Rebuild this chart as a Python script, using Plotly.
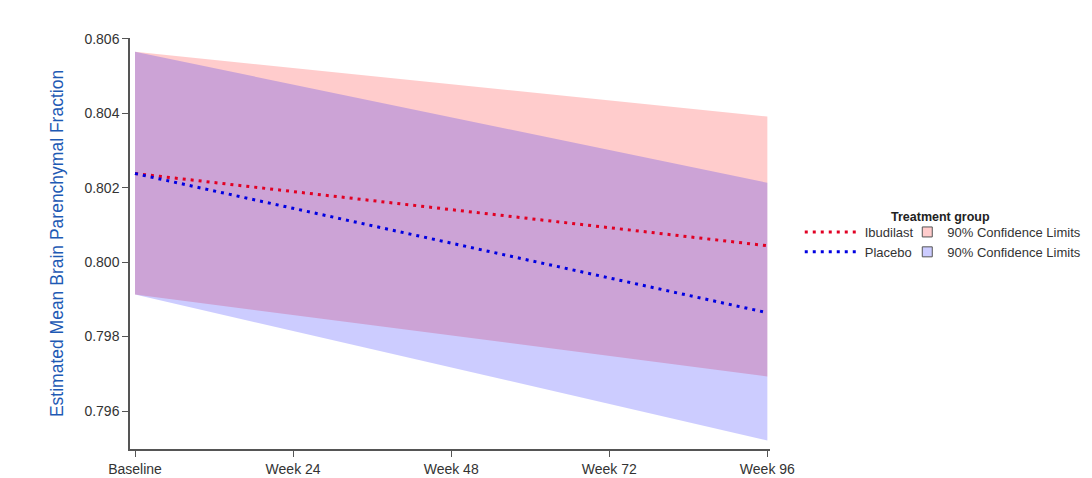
import plotly.graph_objects as go

# ---- data ----
weeks = [0, 24, 48, 72, 96]
tick_labels = ["Baseline", "Week 24", "Week 48", "Week 72", "Week 96"]

ibu_mean = [0.80238, 0.80190, 0.80142, 0.80093, 0.80044]
ibu_upper = [0.80565, 0.80522, 0.80478, 0.80435, 0.80391]
ibu_lower = [0.79913, 0.79858, 0.79803, 0.79748, 0.79693]

pla_mean = [0.80238, 0.80145, 0.80051, 0.79958, 0.79864]
pla_upper = [0.80565, 0.80477, 0.80389, 0.80301, 0.80213]
pla_lower = [0.79913, 0.79815, 0.79717, 0.79619, 0.79521]

y_ticks = [0.796, 0.798, 0.800, 0.802, 0.804, 0.806]

RED_FILL = "rgba(255,0,0,0.2)"
BLUE_FILL = "rgba(0,0,255,0.2)"
RED_LINE = "rgb(225,0,35)"
BLUE_LINE = "rgb(0,0,225)"
FONT = "Liberation Sans, Arial, sans-serif"

fig = go.Figure()

def band(upper, lower, color):
    return go.Scatter(
        x=weeks + weeks[::-1], y=upper + lower[::-1],
        fill="toself", fillcolor=color, mode="lines",
        line=dict(width=0), showlegend=False, hoverinfo="skip")

fig.add_trace(band(ibu_upper, ibu_lower, RED_FILL))
fig.add_trace(band(pla_upper, pla_lower, BLUE_FILL))

fig.add_trace(go.Scatter(x=weeks, y=ibu_mean, mode="lines", name="Ibudilast",
                         line=dict(color=RED_LINE, width=3, dash="3px,5px"),
                         legend="legend"))
fig.add_trace(go.Scatter(x=weeks, y=pla_mean, mode="lines", name="Placebo",
                         line=dict(color=BLUE_LINE, width=3, dash="3px,5px"),
                         legend="legend"))

# legend entries for the confidence bands
for col in ["rgb(255,204,204)", "rgb(204,204,255)"]:
    fig.add_trace(go.Scatter(x=[None], y=[None], mode="markers",
                             name="90% Confidence Limits",
                             marker=dict(symbol="square", size=10, color=col,
                                         line=dict(color="#555", width=1)),
                             legend="legend2"))

fig.update_layout(
    width=1084, height=470,
    margin=dict(l=122, r=322, t=30, b=29, autoexpand=False),
    paper_bgcolor="white", plot_bgcolor="white",
    font=dict(family=FONT, size=14, color="#333"),
    xaxis=dict(range=[-0.76, 96.4], tickvals=weeks, ticktext=tick_labels,
               showgrid=False, zeroline=False, showline=True, automargin=False,
               linecolor="#555", linewidth=1.5, ticks="outside", ticklen=6,
               tickcolor="#555", tickfont=dict(size=14, color="#333")),
    yaxis=dict(range=[0.79498, 0.80602], tickvals=y_ticks, automargin=False,
               tickformat=".3f", showgrid=False, zeroline=False, showline=True,
               linecolor="#555", linewidth=1.5, ticks="outside", ticklen=6,
               tickcolor="#555", tickfont=dict(size=14, color="#333"),
               title=dict(text="Estimated Mean Brain Parenchymal Fraction",
                          font=dict(size=17.5, color="rgb(30,90,180)"),
                          standoff=16)),
    legend=dict(x=1.0465, y=0.5645, xanchor="left", yanchor="top",
                bgcolor="rgba(255,255,255,0)", font=dict(size=13, color="#333"),
                itemwidth=55, tracegroupgap=0),
    legend2=dict(x=1.2145, y=0.5645, xanchor="left", yanchor="top",
                 bgcolor="rgba(255,255,255,0)", font=dict(size=13, color="#333"),
                 itemwidth=30, tracegroupgap=0),
    annotations=[dict(text="<b>Treatment group</b>", xref="paper", yref="paper",
                      x=1.266, y=0.5645, xanchor="center", yanchor="middle",
                      showarrow=False, font=dict(size=12.5, color="#222"))],
)

fig.write_html("out.html")
